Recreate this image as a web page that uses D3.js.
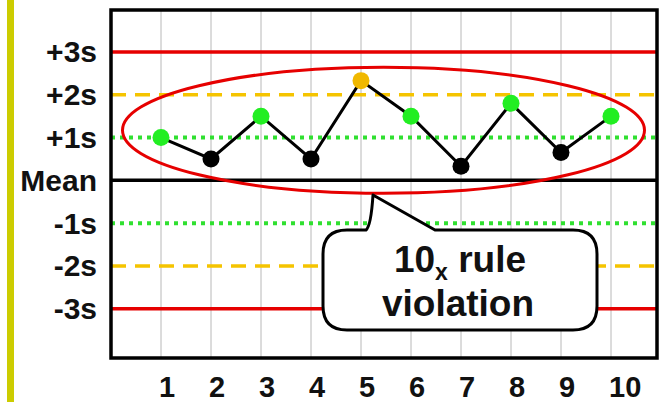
<!DOCTYPE html>
<html lang="en">
<head>
<meta charset="UTF-8">
<title>10x rule</title>
<style>
    body{ margin:0; background:#fff; }
    svg{ display:block; }
    text{ font-family:"Liberation Sans", Arial, sans-serif; font-weight:bold; fill:#111; }
</style>
<script src="https://cdn.jsdelivr.net/npm/d3@7"></script>
</head>
<body>
<script>
    const width = 662
    const height = 402

    // data
    const runs = [1,2,3,4,5,6,7,8,9,10]
    const values = [1.0, 0.5, 1.5, 0.5, 2.33, 1.5, 0.33, 1.8, 0.65, 1.5]
    const sdLevels = [3, 2, 1, 0, -1, -2, -3]
    const sdLabels = ["+3s", "+2s", "+1s", "Mean", "-1s", "-2s", "-3s"]

    const svg = d3.select("body").append("svg")
        .attr("width", width).attr("height", height)

    const x = d3.scaleLinear().domain([0, 10.92]).range([111, 657])
    const y = d3.scaleLinear().domain([-4.15, 3.98]).range([358, 10])

    // yellow side bar
    svg.append("rect").attr("x", 7).attr("y", 0).attr("width", 7).attr("height", height)
        .attr("fill", "#cccc00")

    // vertical grid
    svg.append("g").selectAll("line").data(runs).enter().append("line")
        .attr("x1", d => x(d)).attr("x2", d => x(d))
        .attr("y1", y(3.98)).attr("y2", y(-4.15))
        .attr("stroke", "#b8b8b8").attr("stroke-width", 1)

    // control lines
    const lineStyle = d => {
        const a = Math.abs(d)
        if (a === 3) return {c: "#e60000", w: 3.5, dash: null}
        if (a === 2) return {c: "#f5c400", w: 3.5, dash: "15,9"}
        if (a === 1) return {c: "#30e030", w: 4, dash: "4,5"}
        return {c: "#000", w: 3.5, dash: null}
    }
    svg.append("g").selectAll("line").data(sdLevels).enter().append("line")
        .attr("x1", x(0)).attr("x2", x(10.92))
        .attr("y1", d => y(d)).attr("y2", d => y(d))
        .attr("stroke", d => lineStyle(d).c)
        .attr("stroke-width", d => lineStyle(d).w)
        .attr("stroke-dasharray", d => lineStyle(d).dash)

    // frame
    svg.append("rect")
        .attr("x", x(0)).attr("y", y(3.98))
        .attr("width", x(10.92) - x(0)).attr("height", y(-4.15) - y(3.98))
        .attr("fill", "none").attr("stroke", "#000").attr("stroke-width", 3.5)

    // y labels
    svg.append("clipPath").attr("id", "lblclip").append("rect")
        .attr("x", 21).attr("y", 0).attr("width", 90).attr("height", height)
    svg.append("g").attr("clip-path", "url(#lblclip)")
        .selectAll("text").data(sdLevels).enter().append("text")
        .attr("x", 97).attr("y", d => y(d) + 10.5)
        .attr("text-anchor", "end").attr("font-size", 30)
        .text((d, i) => sdLabels[i])

    // x labels
    svg.append("g").selectAll("text").data(runs).enter().append("text")
        .attr("x", d => x(d) - 2).attr("y", 397)
        .attr("font-size", 29)
        .text(d => d)

    // ellipse
    svg.append("ellipse")
        .attr("cx", x(5.45)).attr("cy", y(1.17))
        .attr("rx", 261).attr("ry", 63)
        .attr("fill", "none").attr("stroke", "#e60000").attr("stroke-width", 3)

    // data line and points
    const pts = runs.map((r, i) => [x(r), y(values[i])])
    svg.append("path").attr("d", d3.line()(pts))
        .attr("fill", "none").attr("stroke", "#000").attr("stroke-width", 3)
    const ptColor = v => v >= 2 ? "#f0b800" : (v >= 1 ? "#22ee22" : "#000")
    svg.append("g").selectAll("circle").data(values).enter().append("circle")
        .attr("cx", (d, i) => x(runs[i])).attr("cy", d => y(d))
        .attr("r", 8.5).attr("fill", d => ptColor(d))

    // callout
    const bx0 = 323, bx1 = 597, by0 = 230, by1 = 330, rr = 24
    const tipX = 373, tipY = 195
    const callout = d3.path()
    callout.moveTo(bx0 + rr, by0)
    callout.lineTo(366, by0)
    callout.quadraticCurveTo(371, by0 - 4, tipX, tipY)
    callout.lineTo(435, by0)
    callout.lineTo(bx1 - rr, by0)
    callout.quadraticCurveTo(bx1, by0, bx1, by0 + rr)
    callout.lineTo(bx1, by1 - rr)
    callout.quadraticCurveTo(bx1, by1, bx1 - rr, by1)
    callout.lineTo(bx0 + rr, by1)
    callout.quadraticCurveTo(bx0, by1, bx0, by1 - rr)
    callout.lineTo(bx0, by0 + rr)
    callout.quadraticCurveTo(bx0, by0, bx0 + rr, by0)
    callout.closePath()
    svg.append("path").attr("d", callout.toString())
        .attr("fill", "#fff").attr("stroke", "#000").attr("stroke-width", 3)
        .attr("stroke-linejoin", "round")

    const t1 = svg.append("text").attr("x", 460).attr("y", 272)
        .attr("text-anchor", "middle").attr("font-size", 37)
    t1.append("tspan").text("10")
    t1.append("tspan").attr("font-size", 23).attr("dy", 8).text("x")
    t1.append("tspan").attr("dy", -8).text(" rule")

    svg.append("text").attr("x", 458).attr("y", 316)
        .attr("text-anchor", "middle").attr("font-size", 37)
        .text("violation")
</script>
</body>
</html>
